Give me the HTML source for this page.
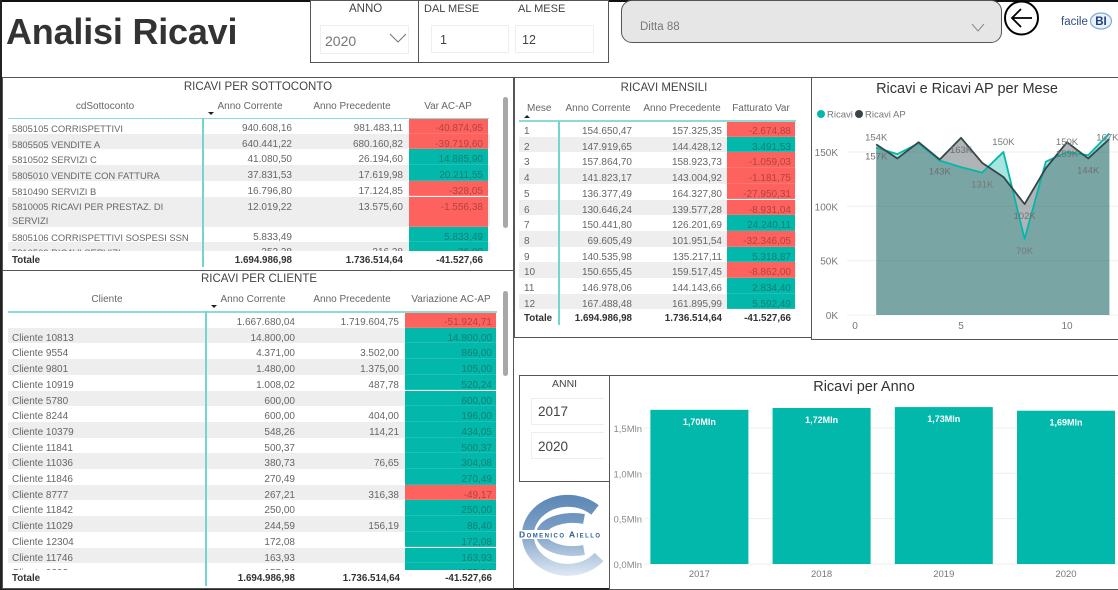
<!DOCTYPE html>
<html lang="it">
<head>
<meta charset="utf-8">
<title>Analisi Ricavi</title>
<style>
html,body{margin:0;padding:0;background:#fff}
body{position:relative;width:1118px;height:590px;overflow:hidden;font-family:"Liberation Sans",sans-serif;color:#666}
.abs,.panel,.rows,.row,.row span,.hd,.ttl,.vline,.hline,.tot,.caret{position:absolute}
.panel{box-sizing:border-box;border:1.5px solid #555;background:#fff}
.ttl{font-size:11.5px;color:#444;text-align:center;white-space:nowrap;line-height:14px;transform:translateX(-50%)}
.hd{font-size:10px;color:#666;line-height:12px;white-space:nowrap}
.hd.c{transform:translateX(-50%)}
.rows{overflow:hidden;background:#fff}
.row{left:0;right:0;height:15.7px;font-size:10px;line-height:22px;color:#666;white-space:nowrap}
.row.g{background:#eee}
.row span{top:0;height:100%}
.row .v{text-align:right;box-sizing:border-box;padding-right:5px;border-bottom:1px solid rgba(255,255,255,.12)}
.row .v.r{background:#fd625e;color:#b5423f}
.row .v.t{background:#01b8aa;color:#0f8076}
.vline{width:1.5px;background:#72d6cd}
.hline{height:1.5px;background:#8adcd5}
.tot{font-size:9.8px;font-weight:bold;color:#333;line-height:12px;white-space:nowrap}
.caret{width:0;height:0;border-left:3px solid transparent;border-right:3px solid transparent;border-top:3.5px solid #222}
.caret.up{border-top:0;border-bottom:3.5px solid #222}
.s1 .a{left:4px;font-size:9.4px}.s1 .b{right:198px}.s1 .d{right:87px}.s1 .v{left:401px;width:79px}
.s2 .a{left:4px}.s2 .b{right:201px}.s2 .d{right:97px}.s2 .v{left:397px;width:91px;padding-right:4px}
.s3 .a{left:5px}.s3 .b{right:164px}.s3 .d{right:74px}.s3 .v{left:208px;width:68px;padding-right:4px}
.lab{font-size:11px;color:#444;white-space:nowrap}
.box{position:absolute;box-sizing:border-box;border:1px solid #eee;background:#fff}
</style>
</head>
<body>

<div class="abs" style="left:0;top:0;width:1118px;height:1.5px;background:#111"></div>
<div class="abs" style="left:0;top:0;width:1.5px;height:590px;background:#222"></div>
<div class="abs" style="left:0;top:588px;width:1118px;height:2px;background:#222"></div>
<div class="abs" style="left:6px;top:10px;font-size:36px;line-height:44px;font-weight:bold;color:#333;letter-spacing:-.2px;white-space:nowrap">Analisi Ricavi</div>

<div class="panel" style="left:310px;top:0;width:110px;height:62.500px"></div>
<div class="abs lab" style="left:349px;top:3px;font-size:11.5px">ANNO</div>
<div class="box" style="left:320px;top:25px;width:89px;height:29px"></div>
<div class="abs" style="left:325px;top:33px;font-size:14px;color:#777">2020</div>
<svg class="abs" style="left:389px;top:32px" width="18" height="14"><path d="M1 2 L9 10 L17 2" fill="none" stroke="#777" stroke-width="1"/></svg>

<div class="panel" style="left:418px;top:0;width:191px;height:62.500px"></div>
<div class="abs lab" style="left:424px;top:3px">DAL MESE</div>
<div class="abs lab" style="left:518px;top:3px">AL MESE</div>
<div class="box" style="left:431px;top:25px;width:78px;height:28px"></div>
<div class="box" style="left:515px;top:25px;width:79px;height:28px"></div>
<div class="abs" style="left:440px;top:33px;font-size:12.5px;color:#444">1</div>
<div class="abs" style="left:522px;top:33px;font-size:12.5px;color:#444">12</div>

<div class="abs" style="left:621px;top:0;width:381px;height:43px;box-sizing:border-box;border:1.5px solid #555;border-radius:11px;background:#e6e6e6"></div>
<div class="abs" style="left:640px;top:20px;font-size:11.5px;line-height:14px;color:#777">Ditta 88</div>
<svg class="abs" style="left:971px;top:22px" width="14" height="11"><path d="M1 2 L7 9 L13 2" fill="none" stroke="#888" stroke-width="1"/></svg>

<svg class="abs" style="left:1002px;top:0" width="38" height="38"><circle cx="19.500" cy="18" r="16.500" fill="#fff" stroke="#000" stroke-width="2"/><path d="M30 18 H10 M19 9 L10 18 L19 27" fill="none" stroke="#000" stroke-width="1.800"/></svg>
<div class="abs" style="left:1061px;top:15px;font-size:11.5px;line-height:14px;color:#2f4f7f;white-space:nowrap">facile</div>
<svg class="abs" style="left:1089px;top:12px" width="24" height="18"><ellipse cx="12" cy="9" rx="10.500" ry="8" fill="#eaf2fb" stroke="#7fa9d9" stroke-width="1.200"/><text x="12" y="13" text-anchor="middle" font-family="Liberation Sans" font-weight="bold" font-size="11.500" fill="#1f3f7f">BI</text></svg>

<!-- RICAVI PER SOTTOCONTO -->
<div class="panel" style="left:2px;top:77px;width:512px;height:194px"></div>
<div class="ttl" style="left:258px;top:80px">RICAVI PER SOTTOCONTO</div>
<div class="hd c" style="left:105px;top:101px">cdSottoconto</div>
<div class="hd c" style="left:250px;top:101px">Anno Corrente</div>
<div class="hd c" style="left:352px;top:101px">Anno Precedente</div>
<div class="hd c" style="left:448px;top:101px">Var AC-AP</div>
<div class="caret" style="left:208px;top:112px"></div>
<div class="rows s1" style="left:8px;top:118px;width:482px;height:133px">
<div class="row" style="top:0"><span class="a">5805105 CORRISPETTIVI</span><span class="b">940.608,16</span><span class="d">981.483,11</span><span class="v r">-40.874,95</span></div>
<div class="row g" style="top:15.7px"><span class="a">5805505 VENDITE A</span><span class="b">640.441,22</span><span class="d">680.160,82</span><span class="v r">-39.719,60</span></div>
<div class="row" style="top:31.4px"><span class="a">5810502 SERVIZI C</span><span class="b">41.080,50</span><span class="d">26.194,60</span><span class="v t">14.885,90</span></div>
<div class="row g" style="top:47.1px"><span class="a">5805010 VENDITE CON FATTURA</span><span class="b">37.831,53</span><span class="d">17.619,98</span><span class="v t">20.211,55</span></div>
<div class="row" style="top:62.8px"><span class="a">5810490 SERVIZI B</span><span class="b">16.796,80</span><span class="d">17.124,85</span><span class="v r">-328,05</span></div>
<div class="row g" style="top:78.5px;height:30px"><span class="a" style="white-space:normal;width:190px;line-height:14px;top:3px">5810005 RICAVI PER PRESTAZ. DI SERVIZI</span><span class="b">12.019,22</span><span class="d">13.575,60</span><span class="v r">-1.556,38</span></div>
<div class="row" style="top:108.5px"><span class="a">5805106 CORRISPETTIVI SOSPESI SSN</span><span class="b">5.833,49</span><span class="v t">5.833,49</span></div>
<div class="row g" style="top:124.2px"><span class="a">5810503 RICAVI SERVIZI</span><span class="b">352,38</span><span class="d">316,38</span><span class="v t">36,00</span></div>
</div>
<div class="hline" style="left:8px;top:117.5px;width:481px"></div>
<div class="vline" style="left:202px;top:118px;height:149px"></div>
<div class="tot" style="left:12px;top:255px">Totale</div>
<div class="tot" style="right:826px;top:255px">1.694.986,98</div>
<div class="tot" style="right:715px;top:255px">1.736.514,64</div>
<div class="tot" style="right:635px;top:255px">-41.527,66</div>
<div class="abs" style="left:503px;top:97px;width:5px;height:131px;border-radius:3px;background:#a8a8a8"></div>

<!-- RICAVI PER CLIENTE -->
<div class="panel" style="left:2px;top:270px;width:512px;height:319px"></div>
<div class="ttl" style="left:259px;top:272px">RICAVI PER CLIENTE</div>
<div class="hd c" style="left:107px;top:294px">Cliente</div>
<div class="hd c" style="left:253px;top:294px">Anno Corrente</div>
<div class="hd c" style="left:352px;top:294px">Anno Precedente</div>
<div class="hd c" style="left:451px;top:294px">Variazione AC-AP</div>
<div class="caret" style="left:211px;top:305px"></div>
<div class="rows s2" style="left:8px;top:312px;width:488px;height:257.500px">
<div class="row" style="top:0"><span class="b">1.667.680,04</span><span class="d">1.719.604,75</span><span class="v r">-51.924,71</span></div>
<div class="row g" style="top:15.7px"><span class="a">Cliente 10813</span><span class="b">14.800,00</span><span class="v t">14.800,00</span></div>
<div class="row" style="top:31.4px"><span class="a">Cliente 9554</span><span class="b">4.371,00</span><span class="d">3.502,00</span><span class="v t">869,00</span></div>
<div class="row g" style="top:47.1px"><span class="a">Cliente 9801</span><span class="b">1.480,00</span><span class="d">1.375,00</span><span class="v t">105,00</span></div>
<div class="row" style="top:62.8px"><span class="a">Cliente 10919</span><span class="b">1.008,02</span><span class="d">487,78</span><span class="v t">520,24</span></div>
<div class="row g" style="top:78.5px"><span class="a">Cliente 5780</span><span class="b">600,00</span><span class="v t">600,00</span></div>
<div class="row" style="top:94.2px"><span class="a">Cliente 8244</span><span class="b">600,00</span><span class="d">404,00</span><span class="v t">196,00</span></div>
<div class="row g" style="top:109.9px"><span class="a">Cliente 10379</span><span class="b">548,26</span><span class="d">114,21</span><span class="v t">434,05</span></div>
<div class="row" style="top:125.6px"><span class="a">Cliente 11841</span><span class="b">500,37</span><span class="v t">500,37</span></div>
<div class="row g" style="top:141.3px"><span class="a">Cliente 11036</span><span class="b">380,73</span><span class="d">76,65</span><span class="v t">304,08</span></div>
<div class="row" style="top:157px"><span class="a">Cliente 11846</span><span class="b">270,49</span><span class="v t">270,49</span></div>
<div class="row g" style="top:172.7px"><span class="a">Cliente 8777</span><span class="b">267,21</span><span class="d">316,38</span><span class="v r">-49,17</span></div>
<div class="row" style="top:188.4px"><span class="a">Cliente 11842</span><span class="b">250,00</span><span class="v t">250,00</span></div>
<div class="row g" style="top:204.1px"><span class="a">Cliente 11029</span><span class="b">244,59</span><span class="d">156,19</span><span class="v t">88,40</span></div>
<div class="row" style="top:219.8px"><span class="a">Cliente 12304</span><span class="b">172,08</span><span class="v t">172,08</span></div>
<div class="row g" style="top:235.5px"><span class="a">Cliente 11746</span><span class="b">163,93</span><span class="v t">163,93</span></div>
<div class="row" style="top:251.2px"><span class="a">Cliente 9292</span><span class="b">155,04</span><span class="v t">155,04</span></div>
</div>
<div class="hline" style="left:8px;top:311px;width:489px"></div>
<div class="vline" style="left:205px;top:311px;height:275px"></div>
<div class="tot" style="left:12px;top:573px">Totale</div>
<div class="tot" style="right:823px;top:573px">1.694.986,98</div>
<div class="tot" style="right:718px;top:573px">1.736.514,64</div>
<div class="tot" style="right:626px;top:573px">-41.527,66</div>
<div class="abs" style="left:503px;top:291px;width:5px;height:85px;border-radius:3px;background:#a8a8a8"></div>

<!-- RICAVI MENSILI -->
<div class="panel" style="left:514px;top:77px;width:298px;height:261px"></div>
<div class="ttl" style="left:664px;top:81px">RICAVI MENSILI</div>
<div class="hd" style="left:527px;top:103px">Mese</div>
<div class="hd c" style="left:598px;top:103px">Anno Corrente</div>
<div class="hd c" style="left:682px;top:103px">Anno Precedente</div>
<div class="hd c" style="left:761px;top:103px">Fatturato Var</div>
<div class="caret up" style="left:524px;top:115px"></div>
<div class="rows s3" style="left:519px;top:121px;width:277px;height:189px">
<div class="row" style="top:0"><span class="a">1</span><span class="b">154.650,47</span><span class="d">157.325,35</span><span class="v r">-2.674,88</span></div>
<div class="row g" style="top:15.7px"><span class="a">2</span><span class="b">147.919,65</span><span class="d">144.428,12</span><span class="v t">3.491,53</span></div>
<div class="row" style="top:31.4px"><span class="a">3</span><span class="b">157.864,70</span><span class="d">158.923,73</span><span class="v r">-1.059,03</span></div>
<div class="row g" style="top:47.1px"><span class="a">4</span><span class="b">141.823,17</span><span class="d">143.004,92</span><span class="v r">-1.181,75</span></div>
<div class="row" style="top:62.8px"><span class="a">5</span><span class="b">136.377,49</span><span class="d">164.327,80</span><span class="v r">-27.950,31</span></div>
<div class="row g" style="top:78.5px"><span class="a">6</span><span class="b">130.646,24</span><span class="d">139.577,28</span><span class="v r">-8.931,04</span></div>
<div class="row" style="top:94.2px"><span class="a">7</span><span class="b">150.441,80</span><span class="d">126.201,69</span><span class="v t">24.240,11</span></div>
<div class="row g" style="top:109.9px"><span class="a">8</span><span class="b">69.605,49</span><span class="d">101.951,54</span><span class="v r">-32.346,05</span></div>
<div class="row" style="top:125.6px"><span class="a">9</span><span class="b">140.535,98</span><span class="d">135.217,11</span><span class="v t">5.318,87</span></div>
<div class="row g" style="top:141.3px"><span class="a">10</span><span class="b">150.655,45</span><span class="d">159.517,45</span><span class="v r">-8.862,00</span></div>
<div class="row" style="top:157px"><span class="a">11</span><span class="b">146.978,06</span><span class="d">144.143,66</span><span class="v t">2.834,40</span></div>
<div class="row g" style="top:172.7px"><span class="a">12</span><span class="b">167.488,48</span><span class="d">161.895,99</span><span class="v t">5.592,49</span></div>
</div>
<div class="hline" style="left:519px;top:120px;width:277px"></div>
<div class="vline" style="left:558px;top:121px;height:204px"></div>
<div class="tot" style="left:524px;top:313px">Totale</div>
<div class="tot" style="right:486px;top:313px">1.694.986,98</div>
<div class="tot" style="right:396px;top:313px">1.736.514,64</div>
<div class="tot" style="right:327px;top:313px">-41.527,66</div>

<!-- AREA CHART -->
<div class="panel" style="left:811px;top:77px;width:309px;height:263px"></div>
<svg class="abs" id="area-chart" style="left:813px;top:79px" width="305" height="259" viewBox="813 79 305 259" xmlns="http://www.w3.org/2000/svg"></svg>

<!-- ANNI SLICER -->
<div class="panel" style="left:519px;top:375px;width:91px;height:107px"></div>
<div class="abs" style="left:552px;top:378px;font-size:10.500px;color:#444">ANNI</div>
<div class="box" style="left:531px;top:398px;width:73px;height:27px;border-right:0"></div>
<div class="box" style="left:531px;top:432px;width:73px;height:27px;border-right:0"></div>
<div class="abs" style="left:538px;top:404px;font-size:13.500px;color:#444">2017</div>
<div class="abs" style="left:538px;top:439px;font-size:13.500px;color:#444">2020</div>

<!-- LOGO -->
<svg class="abs" style="left:516px;top:490px" width="90" height="90" viewBox="516 490 90 90" xmlns="http://www.w3.org/2000/svg">
<defs><linearGradient id="logo-grad" gradientUnits="userSpaceOnUse" x1="0" y1="494" x2="0" y2="576"><stop offset="0" stop-color="#5a87b5"/><stop offset=".45" stop-color="#7c9fc5"/><stop offset="1" stop-color="#dfe9f4"/></linearGradient></defs>
<path d="M595 510 A40 34.500 0 1 0 599 557" fill="none" stroke="url(#logo-grad)" stroke-width="12"/>
<path d="M584 519 A32 16.500 0 1 0 584 550" fill="none" stroke="url(#logo-grad)" stroke-width="10"/>
<rect x="516" y="530" width="90" height="9" fill="#fff"/>
<text x="519" y="537.500" textLength="81" font-family="Liberation Sans" font-weight="bold" font-size="8.500" fill="#2d5f96" style="font-variant:small-caps">Domenico Aiello</text>
</svg>

<!-- BAR CHART -->
<div class="panel" style="left:609px;top:375px;width:511px;height:215px"></div>
<svg class="abs" id="bar-chart" style="left:611px;top:377px" width="507" height="211" viewBox="611 377 507 211" xmlns="http://www.w3.org/2000/svg"></svg>

<script>
const months = [1, 2, 3, 4, 5, 6, 7, 8, 9, 10, 11, 12];
const ricavi = [154, 148, 158, 142, 136, 131, 150, 70, 141, 150, 147, 167];
const ricaviAP = [157, 144, 159, 143, 163, 140, 127, 102, 135, 159, 144, 162];
const ricaviLabelMonths = [1, 6, 7, 8, 10, 12];
const ricaviAPLabelMonths = [1, 4, 5, 8, 10, 11];
const areaXTicks = [0, 5, 10];
const areaYTicks = [0, 50, 100, 150];
const barYears = ['2017', '2018', '2019', '2020'];
const barValues = [1.70, 1.72, 1.73, 1.69];
const barYTicks = [0, 0.5, 1.0, 1.5];

const SVGNS = 'http://www.w3.org/2000/svg';
function mk(parent, tag, attrs, txt) {
  const e = document.createElementNS(SVGNS, tag);
  for (const k in attrs) e.setAttribute(k, attrs[k]);
  if (txt !== undefined) e.textContent = txt;
  parent.appendChild(e);
  return e;
}

/* area chart */
(function () {
  const svg = document.getElementById('area-chart');
  const x = m => 855 + m * 21.2;
  const y = v => 315 - v * 1.087;
  const FONT = '"Liberation Sans", sans-serif';
  let el;

  el = mk(svg, 'text', { x: 967, y: 93, 'text-anchor': 'middle', 'font-family': FONT, 'font-size': 14.5, fill: '#333' }, 'Ricavi e Ricavi AP per Mese');
  
  

  el = mk(svg, 'circle', { cx: 821, cy: 114, r: 4, fill: '#01b8aa' });
  
  
  el = mk(svg, 'text', { x: 827, y: 117.5, 'font-family': FONT, 'font-size': 9.5, fill: '#777' }, 'Ricavi');
  
  
  el = mk(svg, 'circle', { cx: 859, cy: 114, r: 4, fill: '#374649' });
  
  
  el = mk(svg, 'text', { x: 865, y: 117.5, 'font-family': FONT, 'font-size': 9.5, fill: '#777' }, 'Ricavi AP');
  
  

  areaYTicks.forEach(t => {
    let g = mk(svg, 'line', { x1: 847, x2: 1118, y1: y(t), y2: y(t), stroke: '#efefef', 'stroke-width': 1 });
    
    
    g = mk(svg, 'text', { x: 838, y: y(t) + 4, 'text-anchor': 'end', 'font-family': FONT, 'font-size': 10, fill: '#777' }, t + 'K');
    
    
  });
  areaXTicks.forEach(t => {
    const g = mk(svg, 'text', { x: x(t), y: 329, 'text-anchor': 'middle', 'font-family': FONT, 'font-size': 10, fill: '#777' }, String(t));
    
    
  });

  const linePts = s => s.map((v, i) => x(months[i]) + ',' + y(v)).join(' ');
  const areaPts = s => x(months[0]) + ',' + y(0) + ' ' + linePts(s) + ' ' + x(months[months.length - 1]) + ',' + y(0);

  el = mk(svg, 'polygon', { points: areaPts(ricavi), fill: '#01b8aa', 'fill-opacity': .35 });
  
  
  el = mk(svg, 'polygon', { points: areaPts(ricaviAP), fill: '#374649', 'fill-opacity': .4 });
  
  
  el = mk(svg, 'polyline', { points: linePts(ricavi), fill: 'none', stroke: '#01b8aa', 'stroke-width': 1.8, 'stroke-linejoin': 'round' });
  
  
  el = mk(svg, 'polyline', { points: linePts(ricaviAP), fill: 'none', stroke: '#374649', 'stroke-width': 1.8, 'stroke-linejoin': 'round' });
  
  

  ricaviLabelMonths.forEach(m => {
    const v = ricavi[m - 1];
    const below = m === 6 || m === 8;
    const shift = m === 12 ? 7 : (below ? 15 : -7);
    const g = mk(svg, 'text', { x: x(m) - (m === 12 ? 2 : 0), y: y(v) + shift, 'text-anchor': 'middle', 'font-family': FONT, 'font-size': 9.5, fill: '#777' }, v + 'K');
    
    
  });
  ricaviAPLabelMonths.forEach(m => {
    const v = ricaviAP[m - 1];
    const g = mk(svg, 'text', { x: x(m), y: y(v) + 15, 'text-anchor': 'middle', 'font-family': FONT, 'font-size': 9.5, fill: '#6f6f6f' }, v + 'K');
    
    
  });
})();

/* bar chart */
(function () {
  const svg = document.getElementById('bar-chart');
  const y = v => 564 - v * 90.7;
  const band = i => 650.4 + i * 122.2;
  const bandW = 98;
  const FONT = '"Liberation Sans", sans-serif';
  const fmt = (v, d) => v.toFixed(d).replace('.', ',') + 'Mln';

  const tt = mk(svg, 'text', { x: 864, y: 391, 'text-anchor': 'middle', 'font-family': FONT, 'font-size': 14.5, fill: '#333' }, 'Ricavi per Anno');
  
  

  barYTicks.forEach(t => {
    let g = mk(svg, 'line', { x1: 645, x2: 1118, y1: y(t), y2: y(t), stroke: '#eee', 'stroke-width': 1 });
    
    
    g = mk(svg, 'text', { x: 642, y: y(t) + 4, 'text-anchor': 'end', 'font-family': FONT, 'font-size': 9.5, fill: '#8a8a8a' }, fmt(t, 1));
    
    
  });

  barValues.forEach((v, i) => {
    let g = mk(svg, 'rect', { x: band(i), y: y(v), width: bandW, height: y(0) - y(v), fill: '#01b8aa' });
    
    
    g = mk(svg, 'text', { x: band(i) + bandW / 2, y: y(v) + 15, 'text-anchor': 'middle', 'font-family': FONT, 'font-size': 9, 'font-weight': 'bold', fill: '#fff' }, fmt(v, 2));
    
    
    g = mk(svg, 'text', { x: band(i) + bandW / 2, y: 577, 'text-anchor': 'middle', 'font-family': FONT, 'font-size': 9.5, fill: '#777' }, barYears[i]);
    
    
  });
})();
</script>
</body>
</html>
